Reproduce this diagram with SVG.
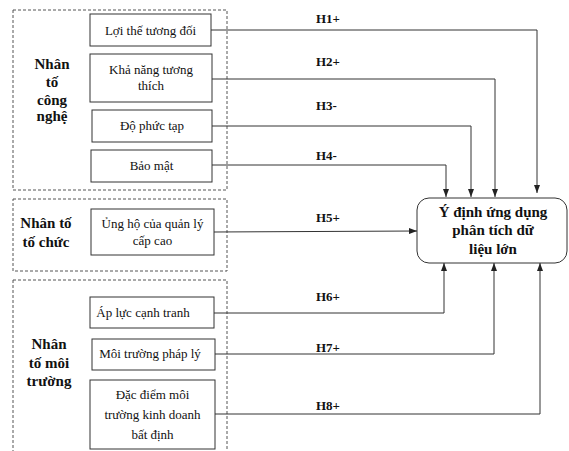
<svg xmlns="http://www.w3.org/2000/svg" width="569" height="451" viewBox="0 0 569 451">
<style>
.grp{fill:none;stroke:#555;stroke-width:1;stroke-dasharray:3,2}
.box{fill:#fff;stroke:#333;stroke-width:1}
.t{font-family:'Liberation Serif','Times New Roman','DejaVu Serif',serif;font-size:13px;fill:#111;text-anchor:middle}
.g{font-family:'Liberation Serif','Times New Roman','DejaVu Serif',serif;font-size:15px;font-weight:bold;fill:#111;text-anchor:middle}
.h{font-family:'Liberation Serif','Times New Roman','DejaVu Serif',serif;font-size:13px;font-weight:bold;fill:#111}
.c{fill:none;stroke:#333;stroke-width:1}
</style>
<defs>
<marker id="ar" viewBox="0 0 8 6" refX="8" refY="3" markerWidth="8" markerHeight="6" orient="auto" markerUnits="userSpaceOnUse">
<path d="M0,0L8,3L0,6z" fill="#222"/>
</marker>
</defs>
<rect width="569" height="451" fill="#fff"/>
<g id="group-cong-nghe">
<rect class="grp" x="13" y="10" width="214" height="180"/>
<text class="g" x="52" y="69">Nhân</text>
<text class="g" x="52" y="87">tố</text>
<text class="g" x="52" y="105">công</text>
<text class="g" x="52" y="121">nghệ</text>
</g>
<g id="group-to-chuc">
<rect class="grp" x="13" y="199" width="214" height="72"/>
<text class="g" x="46" y="228">Nhân tố</text>
<text class="g" x="46" y="247">tố chức</text>
</g>
<g id="group-moi-truong">
<rect class="grp" x="13" y="280" width="214" height="180"/>
<text class="g" x="49" y="349">Nhân</text>
<text class="g" x="49" y="368">tố môi</text>
<text class="g" x="49" y="386">trường</text>
</g>
<g id="n1"><rect class="box" x="90" y="14" width="121" height="32"/><text class="t" x="150.5" y="35">Lợi thế tương đối</text></g>
<g id="n2"><rect class="box" x="90" y="54" width="122" height="48"/><text class="t" x="151" y="74">Khả năng tương</text><text class="t" x="151" y="90">thích</text></g>
<g id="n3"><rect class="box" x="92" y="110" width="120" height="32"/><text class="t" x="152" y="130">Độ phức tạp</text></g>
<g id="n4"><rect class="box" x="91" y="150" width="121" height="32"/><text class="t" x="151.5" y="170">Bảo mật</text></g>
<g id="n5"><rect class="box" x="91" y="209" width="123" height="46"/><text class="t" x="152.5" y="228">Ủng hộ của quản lý</text><text class="t" x="152.5" y="245">cấp cao</text></g>
<g id="n6"><rect class="box" x="90" y="297" width="124" height="31"/><text class="t" x="143" y="317">Áp lực cạnh tranh</text></g>
<g id="n7"><rect class="box" x="92" y="339" width="123" height="31"/><text class="t" x="150" y="358">Môi trường pháp lý</text></g>
<g id="n8"><rect class="box" x="90" y="380" width="125" height="69"/><text class="t" x="152.5" y="399">Đặc điểm môi</text><text class="t" x="152.5" y="419">trường kinh doanh</text><text class="t" x="152.5" y="439">bất định</text></g>
<g id="target"><rect class="box" x="417" y="198" width="150" height="65" rx="12" ry="12"/>
<text class="g" x="493" y="217">Ý định ứng dụng</text>
<text class="g" x="493" y="235">phân tích dữ</text>
<text class="g" x="493" y="254">liệu lớn</text>
</g>
<g id="connectors">
<polyline class="c" points="211,30 537,30 537,193" marker-end="url(#ar)"/>
<polyline class="c" points="212,79 495,79 495,197" marker-end="url(#ar)"/>
<polyline class="c" points="212,126 471,126 471,197" marker-end="url(#ar)"/>
<polyline class="c" points="212,165 446,165 446,197" marker-end="url(#ar)"/>
<polyline class="c" points="214,232 417,231" marker-end="url(#ar)"/>
<polyline class="c" points="214,313 444,313 444,263" marker-end="url(#ar)"/>
<polyline class="c" points="215,354 494,354 494,263" marker-end="url(#ar)"/>
<polyline class="c" points="215,414 540,414 540,263" marker-end="url(#ar)"/>
<text class="h" x="316" y="23">H1+</text>
<text class="h" x="316" y="66">H2+</text>
<text class="h" x="316" y="110">H3-</text>
<text class="h" x="316" y="160">H4-</text>
<text class="h" x="316" y="222">H5+</text>
<text class="h" x="316" y="301">H6+</text>
<text class="h" x="316" y="352">H7+</text>
<text class="h" x="316" y="410">H8+</text>
</g>
</svg>
